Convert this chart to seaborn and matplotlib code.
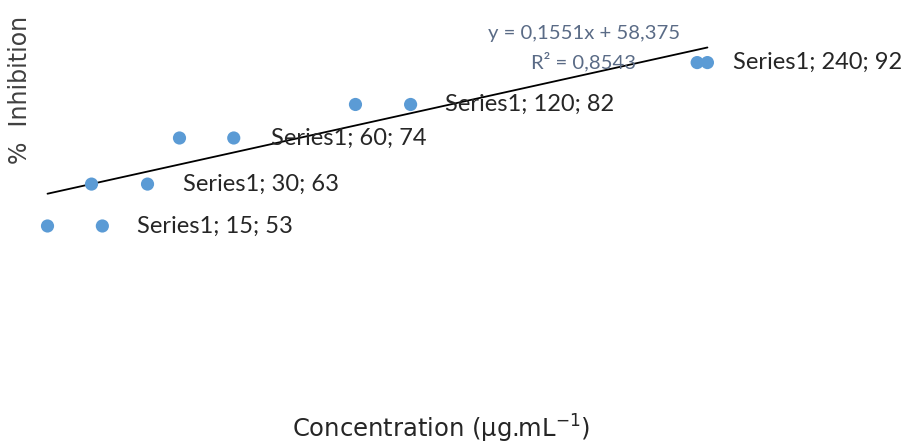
import numpy as np
import pandas as pd
import seaborn as sns
import matplotlib
matplotlib.use("Agg")
import matplotlib.pyplot as plt

# data
conc = [15, 30, 60, 120, 240]
inhib = [53, 63, 74, 82, 92]
# each point shows up twice in the picture; x of the second dot
echo_conc = [33.7, 49.1, 78.5, 138.8, 236.5]
label_names = ["Series1"] * 5
equation = "y = 0,1551x + 58,375"
r2_text = "R\u00b2 = 0,8543"

df = pd.DataFrame({"conc": conc, "inhib": inhib})
df_echo = pd.DataFrame({"conc": echo_conc, "inhib": inhib})

sns.set_theme(style="white")

fig = plt.figure(figsize=(9.04, 4.46), dpi=100)
ax = fig.add_axes([40 / 904, 46 / 446, 850 / 904, 380 / 446])

blue = "#5B9BD5"
sns.regplot(data=df, x="conc", y="inhib", ci=None, scatter=False, ax=ax,
            line_kws={"color": "black", "lw": 1.3})
sns.scatterplot(data=df, x="conc", y="inhib", ax=ax, color=blue, s=90,
                edgecolor="none", zorder=3)
sns.scatterplot(data=df_echo, x="conc", y="inhib", ax=ax, color=blue, s=90,
                edgecolor="none", zorder=3)

# data labels, placed right of the right-hand dot of each pair
label_dx = [35, 35, 37, 34, 26]
right_x = np.maximum(conc, echo_conc)
for name, xr, xv, yv, dx in zip(label_names, right_x, conc, inhib, label_dx):
    ax.annotate(f"{name}; {xv}; {yv}", (xr, yv), xytext=(dx, 0),
                textcoords="offset pixels", ha="left", va="center",
                fontsize=17, family="Lato", color="#262626", zorder=4)

ax.set_xlim(12.44, 302.25)
ax.set_ylim(11.47, 102.16)
ax.set_xlabel("")
ax.set_ylabel("")
ax.set_xticks([])
ax.set_yticks([])
for sp in ax.spines.values():
    sp.set_visible(False)

ax.text(584 / 904, 1 - 33 / 446, equation, transform=fig.transFigure,
        ha="center", va="center", fontsize=14.6, family="Lato", color="#5a6b86")
ax.text(584 / 904, 1 - 62 / 446, r2_text, transform=fig.transFigure,
        ha="center", va="center", fontsize=14.6, family="Lato", color="#5a6b86")

fig.text(20 / 904, 1 - 90 / 446, "%  Inhibition", rotation=90,
         ha="center", va="center", fontsize=17, family="DejaVu Sans", color="#404040")
fig.text(441 / 904, 1 - 429 / 446, "Concentration (\u00b5g.mL$^{-1}$)",
         ha="center", va="center", fontsize=17.5, family="DejaVu Sans", color="#262626")

fig.savefig("out.png", dpi=100)
